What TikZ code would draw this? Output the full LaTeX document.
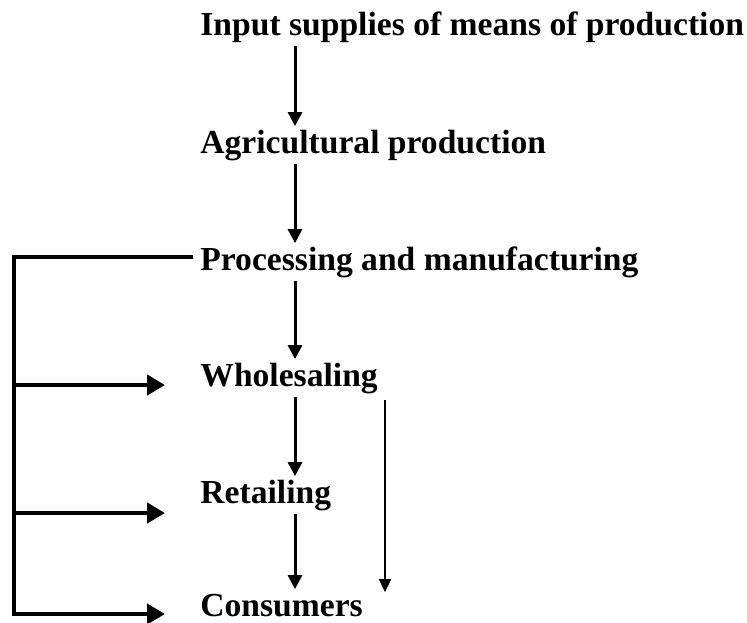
\documentclass[tikz,border=0pt]{standalone}
\usepackage{fontspec}
\setmainfont{Liberation Serif}
\usepackage{tikz}
\usetikzlibrary{arrows.meta,positioning,calc}

\begin{document}
\begin{tikzpicture}[x=0.5pt,y=-0.5pt,
  lbl/.style={anchor=base west,inner sep=0pt,text height=11.75pt,text depth=3.7pt,
    font=\bfseries\fontsize{16.8}{20}\selectfont},
  down/.style={line width=1.5pt,-{Triangle[length=7pt,width=7pt]},
    shorten <=1.5pt,shorten >=1.5pt},
  bar/.style={line width=2.2pt,line join=miter},
  side/.style={line width=2.2pt,-{Triangle[length=9pt,width=10pt]},shorten >=17.5pt},
  skip/.style={line width=0.9pt,-{Triangle[length=6.5pt,width=6pt]}}]
 \useasboundingbox (0,0) rectangle (747,622);
 % ---- stages ----
 \node[lbl] (inp)   at (200,35)  {Input supplies of means of production};
 \node[lbl] (agr)   at (200,153) {Agricultural production};
 \node[lbl] (proc)  at (200,270) {Processing and manufacturing};
 \node[lbl] (whole) at (200,386) {Wholesaling};
 \node[lbl] (ret)   at (200,503) {Retailing};
 \node[lbl] (cons)  at (200,616) {Consumers};
 \coordinate (col) at (295,0);
 \draw[down] (inp.south -| col)   -- (agr.north -| col);
 \draw[down] (agr.south -| col)   -- (proc.north -| col);
 \draw[down] (proc.south -| col)  -- (whole.north -| col);
 \draw[down] (whole.south -| col) -- (ret.north -| col);
 \draw[down] (ret.south -| col)   -- (cons.north -| col);
 % ---- wholesaler straight to consumers ----
 \coordinate (sk) at (385,400);
 \draw[skip] (sk) -- (sk |- cons.north);
 % ---- bypass on the left ----
 \coordinate (s0) at (14,257);
 \coordinate (s1) at (14,385);
 \coordinate (s2) at (14,513);
 \coordinate (s3) at (14,614);
 \draw[bar] ([xshift=-3.5pt]s0 -| proc.west) -- (s0) -- ([yshift=-1.1pt]s3);
 \draw[side] (s1) -- (s1 -| whole.west);
 \draw[side] (s2) -- (s2 -| ret.west);
 \draw[side] (s3) -- (s3 -| cons.west);
\end{tikzpicture}
\end{document}
